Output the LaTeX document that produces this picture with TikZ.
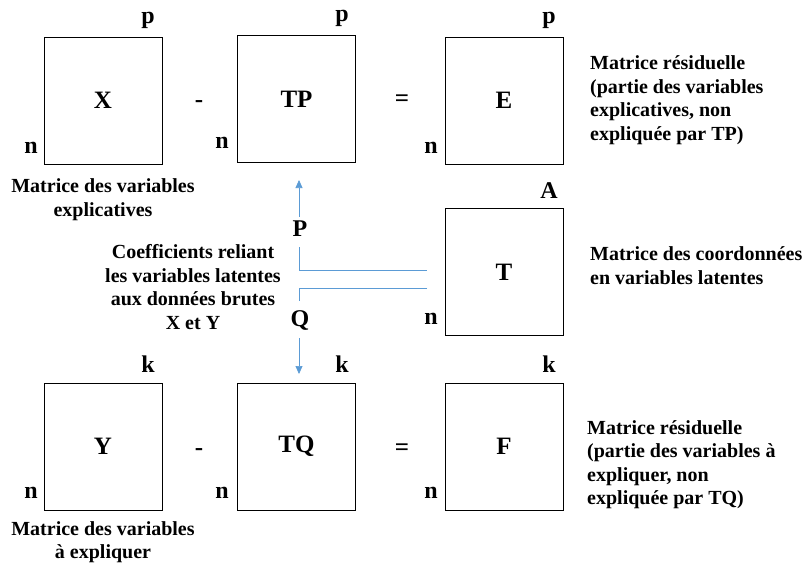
\documentclass[tikz,border=0pt]{standalone}
\usepackage{fontspec}
\setmainfont{Liberation Serif}
\usetikzlibrary{arrows.meta, positioning}
\definecolor{link-blue}{HTML}{5B9BD5}
\tikzset{
  mat/.style={draw, line width=0.8pt, minimum width=118pt, minimum height=127pt,
    inner sep=0pt, font=\fontsize{25}{28}\selectfont\bfseries},
  dim/.style={font=\fontsize{24}{27}\selectfont\bfseries, inner sep=0pt},
  op/.style={font=\fontsize{25}{28}\selectfont\bfseries, inner sep=0pt},
  desc/.style={font=\fontsize{20}{23.5}\selectfont\bfseries, inner sep=0pt},
  link/.style={link-blue, line width=0.7pt},
  linkarrow/.style={link, -{Triangle[length=8pt, width=7pt]}}
}
\begin{document}
\begin{tikzpicture}[x=1pt, y=-1pt]
    \useasboundingbox (0,0) rectangle (808,567);
    % ── Row 1: X - TP = E
    \node[mat] (boxX) at (103,100.5) {X};
    \node[mat] (boxTP) at (296.5,99) {TP};
    \node[mat] (boxE) at (504,100.5) {E};
    \node[op] (minus1) at (199,104) {-};
    \node[op] (equal1) at (402,101) {=};
    \node[dim] (pX) at (148,20) {p};
    \node[dim] (nX) at (31,148) {n};
    \node[dim] (pTP) at (342,18) {p};
    \node[dim] (nTP) at (222,143) {n};
    \node[dim] (pE) at (549,20) {p};
    \node[dim] (nE) at (431,148) {n};
    \node[desc, align=center] (descX) at (103,199.5)
      {Matrice des variables\\explicatives};
    \node[desc, align=left, anchor=west] (descE) at (590,100)
      {Matrice résiduelle\\(partie des variables\\explicatives, non\\expliquée par TP)};
    % ── Middle: T and the coefficients P, Q
    \node[mat] (boxT) at (504,272) {T};
    \node[dim] (aT) at (549,191) {A};
    \node[dim] (nT) at (431,319) {n};
    \node[desc, align=left, anchor=west] (descT) at (590,265.5)
      {Matrice des coordonnées\\en variables latentes};
    \node[desc, align=center] (coef) at (193,287)
      {Coefficients reliant\\les variables latentes\\aux données brutes\\X et Y};
    \node[dim] (P) at (300,229) {P};
    \node[dim] (Q) at (300,320) {Q};
    \coordinate (tipP) at (299,180);
    \coordinate (tipQ) at (299,374);
    \coordinate (endP) at (427,270);
    \coordinate (endQ) at (427,288);
    \draw[linkarrow] ([yshift=4pt]P.north -| tipP) -- (tipP);
    \draw[link] ([yshift=-10pt]P.south -| tipP) |- (endP);
    \draw[link] (endQ) -| ([yshift=9pt]Q.north -| tipQ);
    \draw[linkarrow] ([yshift=-8pt]Q.south -| tipQ) -- (tipQ);
    % ── Row 2: Y - TQ = F
    \node[mat] (boxY) at (103,446.5) {Y};
    \node[mat] (boxTQ) at (296.5,446.5) {TQ};
    \node[mat] (boxF) at (504,446.5) {F};
    \node[op] (minus2) at (199,452) {-};
    \node[op] (equal2) at (402,450) {=};
    \node[dim] (kY) at (148,364) {k};
    \node[dim] (nY) at (31,493) {n};
    \node[dim] (kTQ) at (342,364) {k};
    \node[dim] (nTQ) at (222,493) {n};
    \node[dim] (kF) at (549,364) {k};
    \node[dim] (nF) at (431,493) {n};
    \node[desc, align=center] (descY) at (103,542)
      {Matrice des variables\\à expliquer};
    \node[desc, align=left, anchor=west] (descF) at (587,464.5)
      {Matrice résiduelle\\(partie des variables à\\expliquer, non\\expliquée par TQ)};
\end{tikzpicture}
\end{document}
